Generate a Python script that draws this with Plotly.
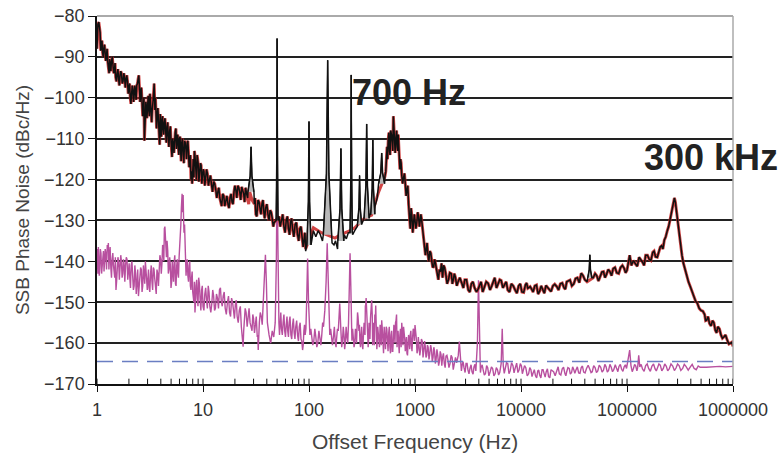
import plotly.graph_objects as go

# ---------------- data ----------------
# black measured curve (noise floor, without spurs)
black_f = [1.00,1.02,1.04,1.07,1.10,1.13,1.16,1.19,1.23,1.26,1.30,1.33,1.37,1.42,1.46,1.50,1.55,1.60,1.65,1.70,
           1.76,1.82,1.88,1.94,2.00,2.06,2.12,2.18,2.24,2.30,2.37,2.44,2.48,2.52,2.58,2.66,2.74,2.80,2.86,2.92,
           3.00,3.08,3.16,3.24,3.32,3.40,3.46,3.52,3.60,3.70,3.80,3.90,4.00,4.10,4.20,4.32,4.45,4.58,4.70,4.85,
           5.00,5.10,5.25,5.40,5.55,5.70,5.85,6.00,6.15,6.30,6.50,6.70,6.90,7.10,7.30,7.50,7.70,7.90,8.10,8.30,
           8.55,8.80,9.00,9.30,9.60,9.90,10.2,10.6,11.0,11.5,12.0,12.6,13.2,13.8,14.4,15.0,15.7,16.4,17.2,18.0,
           18.8,19.6,20.4,21.3,22.2,23.2,24.2,25.2,26.4,27.6,29.0,30.5,31.5,33.0,34.5,36.0,37.5,39.0,41.0,43.0,
           45.0,47.0,52.0,55.0,58.0,61.0,64.0,67.0,70.0,74.0,78.0,82.0,86.0,90.0,93.0,97.0,102,110,116,122,
           128,134,140,146,156,165,172,178,186,193,205,215,225,235,245,258,270,285,300,318,
           335,355,375,395,420,440,460,480,500,520,530,545,560,575,590,610,625,640,660,680,
           695,710,730,750,780,810,840,870,903,935,970,1000,1040,1080,1120,1150,1190,1230,1280,1320,
           1380,1440,1500,1560,1620,1700,1780,1860,1950,2070,2200,2300,2400,2550,2770,2950,3180,3400,3650,3970,
           4200,4500,4900,5300,5650,6100,6500,7000,7500,8100,8800,9500,10200,11000,11600,12200,13000,14000,15000,16000,
           17200,18500,20000,21800,23500,25500,27000,29000,31500,34000,37000,40000,48000,51800,56000,60000,64000,69000,74000,80000,
           87000,94000,100000,106000,110000,120000,130000,140000,150000,162000,175000,186000,200000,212000,225000,240000,255000,268000,280000,292000,
           305000,320000,340000,365000,396000,430000,460000,500000,540000,565000,600000,640000,680000,720000,770000,820000,880000,950000,1000000]
black_db = [-88,-82,-81.5,-84,-87,-89,-88,-88.5,-89.5,-91,-94,-92,-91,-92.5,-93.5,-95,-94,-95.5,-94.5,-94,
            -96,-95,-95.5,-96,-97.5,-100,-99,-98,-99.5,-98,-97,-95.5,-94.5,-98,-99,-101,-103,-110.5,-104,-102,
            -100.5,-103,-99,-101,-103,-100,-96.5,-103,-105,-104,-105.5,-111.5,-107,-105.5,-107.5,-106,-108.5,-107,-109.5,-108,
            -111,-114.5,-111,-109,-107.5,-110,-112,-110,-113,-111,-114,-110.5,-112.5,-111,-113.5,-116,-120,-121,-115,-113,
            -117,-114,-116,-118.5,-116.5,-119,-118,-119.5,-118.5,-120,-121,-120.5,-122.5,-123,-124.5,-126.5,-124,-125,-126,-124.5,
            -125.5,-123,-122.5,-121.5,-123,-121.8,-123.5,-122,-124.5,-123,-125,-126,-128.5,-125,-127,-126,-128,-127,-128.5,-127.5,
            -129.5,-130.5,-129,-130,-131.5,-130,-132,-130.5,-132,-131,-133.5,-132,-134,-134.5,-137.5,-136,-134.5,-132.5,-134,-132.5,
            -133.5,-135,-134,-133,-134,-135.5,-136,-135,-137,-135,-134,-133.5,-134.5,-133,-132.5,-133.5,-132.5,-131.5,-131,-130.5,
            -130,-129.5,-128.5,-129,-126.5,-124.5,-122.5,-121,-120.5,-119.3,-118,-112,-110,-113,-108,-111,-104.5,-112,-110,-112,
            -109,-114,-115,-119,-119.5,-121,-122.5,-126,-132,-129,-131,-130,-130.5,-129,-130,-129.4,-132,-136.4,-137,-138,
            -137.5,-140,-141.3,-140.5,-143.8,-142,-140.5,-141,-143,-144.5,-143,-144.5,-143.8,-145,-145.4,-144.5,-147,-145.5,-146.5,-146.6,
            -145,-146.5,-145.4,-146,-144,-145.5,-144.7,-145.7,-147,-145.5,-147,-146,-147.5,-145.8,-146.6,-146.2,-147.5,-145.8,-147.3,-147,
            -145.9,-147,-146,-146.2,-145.5,-146.5,-145,-144.6,-145.5,-144,-142.9,-144.5,-144,-143.5,-143.8,-142.5,-143.2,-142.5,-141.8,-142.8,
            -141.5,-141.7,-142.2,-138.5,-141,-140.6,-139,-140.2,-138.5,-139.5,-137.8,-138.9,-137.2,-136.2,-134.8,-132.5,-129.8,-127.0,-124.5,-127.5,
            -131.5,-136,-140.4,-143.5,-146.2,-148.5,-150.2,-152,-153,-154.4,-155.2,-154.5,-156.8,-156,-158,-158.5,-159.2,-160,-160.8]

# additional readings of the black curve's fine noise texture
black_noise_f = [1.015,1.055,1.085,1.115,1.145,1.175,1.21,1.245,1.28,1.315,1.35,1.395,1.44,1.48,1.525,1.575,1.625,1.675,1.73,1.79,
                 1.85,1.91,1.97,2.03,2.09,2.15,2.21,2.27,2.34,2.41,2.55,2.62,2.70,2.77,2.83,2.89,2.96,3.04,3.12,3.20,
                 3.28,3.36,3.56,3.65,3.75,3.85,3.95,4.05,4.15,4.26,4.38,4.51,4.64,4.77,4.92,5.05,5.17,5.32,5.47,5.62,
                 5.77,5.92,6.07,6.22,6.40,6.60,6.80,7.00,7.20,7.40,7.60,7.80,8.00,8.20,8.42,8.68,8.90,9.15,9.45,9.75,
                 10.05,10.4,10.8,11.25,11.75,12.3,12.9,13.5,14.1,14.7,15.35,16.05,16.8,17.6,18.4,19.2,20.0,20.85,21.75,22.7,
                 23.7,24.7,25.8,27.0,31.0,32.2,33.8,35.2,36.8,38.2,40.0,42.0,44.0,46.0,53.5,56.5,59.5,62.5,65.5,68.5,
                 72.0,76.0,80.0,84.0,88.0,91.5,550,567,582,600,617,632,650,670,688,702,720,740,765,795,
                 825,855,886,918,952,985,1020,1060,1100,1135,1170,1210,1255,1300,1350,1410,1470,1530,1590,1660,
                 1740,1820,1900,2010,2130,2250,2350,2480,2650,2860,3060,3290,3520,3800,4080,4350,4700,5100,5450,5870,
                 6300,6750,7250,7800,8450,9150,9850,10600,11300,12600,13500,14500,15500,16600,17800,19200,20800,22600,24500,26200,
                 28000,30200,32700,35500,38500,42000,50000,53800,58000,62000,66500,71500,77000,83500,90500,97000,115000,125000,135000,145000,
                 156000,168000,180000,193000,206000,218000,232000,247000,261000,274000,286000,298000,312000,330000,352000,380000,412000,445000,480000,520000,
                 552000,582000,620000,660000,700000,745000,795000,850000,915000,975000]
black_noise_db = [-85,-83,-88.5,-86,-90,-87,-91,-88,-92.5,-90.5,-93.5,-90,-94,-91.5,-96,-93,-97,-93.5,-96.5,-94,
                  -97.5,-94.5,-99,-96.5,-101.5,-97,-101,-97,-100.5,-96.5,-101,-97.5,-104.5,-100,-107,-101,-105,-99.5,-104.5,-101.5,
                  -106,-102,-100,-107.5,-102.5,-108,-104,-109.5,-104.5,-109,-105,-111,-106,-112,-107,-113,-110,-113.5,-108.5,-112.5,
                  -109,-114,-109.5,-115.5,-110,-116,-111,-115,-110.5,-117,-114,-118,-115.5,-119.5,-114.5,-120,-115.5,-120.5,-116,-121,
                  -117.5,-121.5,-117.5,-121.5,-119,-123,-121,-124.5,-122,-126,-123.5,-126.5,-124,-127,-123.5,-126,-121.5,-124.5,-122,-125,
                  -122.5,-125.5,-123.5,-126,-124.5,-129,-125.5,-128.5,-125,-129.5,-126,-130,-128,-131.5,-131.5,-128.5,-133,-129,-133.5,-129.5,
                  -134,-130.5,-135,-131.5,-136.5,-133,-115,-108.5,-114,-109,-113,-107,-113.5,-108,-113,-111,-117.5,-116,-121,-118.5,
                  -124,-121.5,-130,-127,-133,-128.5,-132,-128,-131.5,-128.5,-131,-135,-138.5,-135.5,-140,-138,-141.5,-139.5,-142,-144.5,
                  -142.5,-144,-141.5,-145.5,-142.8,-145.5,-143,-146,-144,-146.5,-144.5,-147.5,-145,-147.5,-145.5,-147.5,-145,-147,-145,-146.5,
                  -144.5,-146.5,-145,-147.5,-146,-147.8,-145.5,-147.6,-145.3,-146.8,-146,-148,-146,-147.8,-146.3,-147.4,-145.6,-147,-145.3,-146.8,
                  -144.8,-146,-144.2,-145.2,-143.5,-145,-143,-144.8,-142.6,-144,-142,-143.5,-141.5,-143,-141,-142.8,-139.8,-141.2,-139.5,-141,
                  -138.5,-139.8,-137.5,-139,-136.5,-137,-134,-131.5,-128.5,-126,-125.5,-129.5,-134,-138.5,-142,-145,-147.5,-149.8,-151.5,-152.2,
                  -154.5,-153.5,-155.8,-155,-157.5,-156.5,-158.8,-158,-160.2,-159.8]

# red smoothed floor where the black curve is hidden by spurs (90 Hz - 520 Hz)
red_bridge_f = [93, 110, 131, 176, 195, 235, 270, 335, 390, 450, 520]
red_bridge_db = [-137, -131.8, -133, -134.3, -133.6, -132.7, -131.8, -129.4, -128.7, -123.3, -119.3]

# spurs on the black curve: centre frequency, peak level, base level, relative half width
spur_f = [28.4, 50, 100, 150, 200, 250, 300, 350, 400, 485, 44600]
spur_peak = [-112, -85.5, -105.8, -90.8, -112.4, -94.4, -119, -106.4, -110.3, -113.5, -138.4]
spur_base = [-123, -130, -136, -133.5, -135, -133, -131, -129.5, -128.5, -121, -144]
spur_hw = [0.065, 0.02, 0.045, 0.09, 0.065, 0.025, 0.045, 0.055, 0.045, 0.065, 0.045]

# magenta curve
mag_f = [1.00,1.02,1.04,1.06,1.09,1.12,1.15,1.18,1.21,1.25,1.28,1.31,1.35,1.39,1.43,1.47,1.51,1.55,1.60,1.65,
         1.70,1.75,1.80,1.86,1.92,1.98,2.04,2.10,2.17,2.24,2.31,2.38,2.46,2.54,2.62,2.70,2.78,2.86,2.94,3.02,
         3.10,3.20,3.30,3.40,3.50,3.62,3.74,3.86,3.98,4.10,4.22,4.32,4.42,4.52,4.65,4.78,4.92,5.06,5.20,5.35,
         5.50,5.65,5.80,5.95,6.10,6.25,6.35,6.45,6.55,6.70,6.85,7.00,7.20,7.40,7.60,7.80,8.00,8.20,8.40,8.60,
         8.85,9.10,9.40,9.70,10.0,10.4,10.8,11.2,11.6,12.1,12.6,13.1,13.7,14.3,14.9,15.5,16.2,17.0,17.8,18.6,
         19.4,20.2,21.0,22.0,23.0,23.9,24.5,25.5,26.7,27.8,29.0,30.0,31.2,32.5,33.2,34.0,35.5,37.0,38.0,38.8,
         39.6,40.5,42.0,43.5,45.0,46.5,48.0,49.2,50.0,50.8,52.0,53.5,55.0,57.0,59.0,61.0,63.0,65.0,67.5,70.0,
         72.5,75.0,78.0,81.0,84.0,87.0,89.5,92.0,95.0,97.0,99.0,102,106,111,116,121,127,132,137,141,
         145,148.5,152,157,163,170,177,182,189,195,200,207,214,220,228,236,240.5,244,248,254,
         262,270,278,284,290,296,302,310,318,327,335,340,346,352,358,365,372,380,386,390,
         395,402,410,418,426,433,440,450,462,475,485,495,505,520,535,550,565,580,595,610,
         625,640,655,670,685,700,720,740,760,780,800,820,840,860,880,903,925,950,975,1000,
         1030,1060,1090,1130,1170,1210,1250,1290,1330,1380,1430,1480,1530,1580,1640,1700,1760,1820,1890,1960,
         2040,2140,2240,2350,2470,2560,2620,2690,2780,2900,3030,3160,3300,3450,3600,3750,3880,3970,4070,4200,
         4400,4620,4850,5120,5400,5700,6000,6300,6500,6650,6800,7100,7500,7900,8400,8800,9100,9600,10100,10500,
         11100,11800,12400,13000,13700,14400,15000,15800,16500,17300,18200,19200,20300,21800,23000,24500,26000,27000,28500,30000,
         31500,33000,35000,37000,39000,41500,44600,47000,50000,53000,56500,60000,63500,67000,71000,75000,80000,84000,89000,94000,
         99000,103000,106000,109000,115000,121000,126000,129000,132000,140000,150000,160000,172000,184000,194000,206000,220000,235000,250000,270000,
         290000,310000,335000,360000,396000,430000,470000,490000,560000,650000,750000,850000,1000000]
mag_db = [-137,-143,-139,-142,-138,-141,-137.5,-140,-138,-136,-135.5,-139,-141.5,-139.5,-141,-144,-147,-142,-140,-141.5,
          -140,-143,-140.5,-141,-139.5,-142.5,-144,-141,-143.5,-146,-143,-145.5,-148.5,-144,-142,-146,-143,-140,-144.5,-142,
          -146.5,-143,-145,-141.5,-144,-148,-143,-141,-139.5,-140.5,-137,-132,-134,-139,-137.5,-142,-141,-145,-143,-140,
          -145.5,-141,-143,-139,-135,-127,-123.5,-125,-129,-131,-138,-141,-143.5,-141,-146,-144,-147.5,-150,-152.5,-146,
          -149,-144,-149.5,-147,-151,-148,-149.5,-146,-151,-150.4,-148.5,-151.5,-149,-147,-150,-148.5,-151.5,-150,-152.5,-149,
          -152,-150.5,-153.5,-152,-156,-160.9,-154,-152.5,-153.5,-155,-157,-154,-156,-158.5,-161.7,-155,-153.5,-151,-146,-138.4,
          -145,-155,-158,-160,-157,-158.5,-155,-140,-119.5,-140,-155,-154,-156.5,-155,-157,-155.5,-157,-155,-158,-155.5,
          -157.5,-156,-158,-156,-159,-161.7,-157,-158,-150,-139.3,-150,-158,-158.8,-159.5,-158.5,-160,-159,-158,-156,-152,
          -145,-135.6,-145,-158,-159.4,-158.5,-160,-159,-157,-150.3,-157,-159.4,-158,-160,-158.5,-155,-145,-138,-146,-159.4,
          -158,-160,-157.5,-156,-153.5,-157,-159.4,-158,-160.5,-157.5,-156,-151,-149,-152,-158,-159.5,-157,-154,-150,-149.5,
          -153,-159.4,-157,-153,-150.8,-156,-160,-158,-161,-157,-154.4,-158,-162.5,-158,-156,-159.5,-157.5,-161,-158,-162,
          -159,-157,-155,-153,-158,-160.5,-158,-161,-157.5,-156,-159,-160.5,-162.5,-160,-159,-158,-160.5,-158.5,-157,-155.6,
          -159,-161.7,-160,-161.5,-159.5,-162,-160.8,-163,-161,-162.5,-161.5,-163.5,-162,-164.1,-163,-164.5,-162.8,-163.5,-165,-163.2,
          -164,-165,-163.5,-165,-164.8,-163,-159.6,-163.5,-165.5,-166,-165,-166.6,-166.2,-167,-165.8,-166.8,-160,-144.6,-160,-166,
          -166.6,-167.5,-166,-167,-166.2,-167.5,-166.5,-167.2,-165,-156.5,-165.5,-166.5,-165,-166.8,-165.5,-166.2,-164.9,-166.5,-165.6,-166.6,
          -166,-167.5,-166.5,-167.3,-168,-166.8,-167.8,-166.5,-167.4,-167,-168.2,-166.5,-167,-166.6,-167.5,-166.3,-167.5,-167,-166.2,-167.2,
          -166.5,-166.6,-167.3,-166,-167.1,-166.2,-166.4,-167,-166,-166.8,-165.9,-166.6,-165.8,-166.7,-165.9,-166.5,-166.3,-165.7,-166.4,-165.8,
          -166.2,-164,-161.7,-165.5,-166.2,-165.6,-166,-163,-165.8,-166.3,-165.5,-166.2,-165.6,-166.3,-166,-165.4,-166.2,-165.7,-166.3,-165.6,
          -166.1,-165.5,-166.2,-165.7,-165.8,-166.2,-165.6,-165.9,-165.9,-165.8,-165.7,-165.8,-165.7]

# additional readings of the magenta curve's fine noise texture
mag_noise_f = [1.01,1.03,1.05,1.075,1.105,1.135,1.165,1.195,1.23,1.265,1.295,1.33,1.37,1.41,1.45,1.49,1.53,1.575,1.625,1.675,
               1.725,1.775,1.83,1.89,1.95,2.01,2.07,2.135,2.205,2.275,2.345,2.42,2.50,2.58,2.66,2.74,2.82,2.90,2.98,3.06,
               3.15,3.25,3.35,3.45,3.56,3.68,3.80,3.92,4.04,4.16,4.27,4.37,4.47,4.58,4.71,4.85,4.99,5.13,5.27,5.42,
               5.57,5.72,5.87,6.02,6.18,6.30,6.40,6.50,6.62,6.77,6.92,7.10,7.30,7.50,7.70,7.90,8.10,8.30,8.50,8.72,
               8.97,9.25,9.55,9.85,10.2,10.6,11.0,11.4,11.85,12.35,12.85,13.4,14.0,14.6,15.2,15.85,16.6,17.4,18.2,19.0,
               19.8,20.6,21.5,22.5,23.45,24.2,25.0,26.1,27.2,28.4,29.5,30.6,31.8,32.85,33.6,34.7,36.2,
               51.3,52.7,54.2,56.0,58.0,60.0,62.0,64.0,66.2,68.7,71.2,73.7,76.5,79.5,82.5,85.5,88.2,90.7,93.5,104,
               108.5,113.5,118.5,124,129.5,134.5,160,166.5,173.5,180,185.5,203.5,210.5,217,224,232,258,266,274,281,
               287,299,306,314,322,331,337.5,343,349,355,361.5,368.5,376,383,398.5,406,414,422,429.5,436.5,
               445,456,468.5,480,490,500,512,527,542,557,572,587,602,617,632,647,662,677,692,710,
               730,750,770,790,810,830,850,870,891,914,937,962,987,1015,1045,1075,1110,1150,1190,1230,
               1270,1310,1355,1405,1455,1505,1555,1610,1670,1730,1790,1855,1925,2000,2090,2190,2295,2410,
               2740,2840,2970,3100,3230,3380,3530,3680,4140,4300,4510,4740,4980,5260,5550,5850,6150,6950,7300,7700,
               8150,8600,8950,9350,9850,10300,10800,11450,12100,12700,13350,14050,14700,15400,16150,16900,17750,18700,19750,21000,
               22400,23750,25200,26500,27700,29200,30700,32200,34000,36000,38000,40200,43000,45800,48500,51500,54700,58200,61800,65200,
               69000,73000,77500,82000,86500,91500,96500,112000,118000,124000,136000,145000,155000,166000,178000,189000,200000,213000,227000,242000,
               260000,280000,300000,322000,347000,378000,412000,450000]
mag_noise_db = [-140,-136.5,-143.5,-137,-143,-138,-142.5,-137,-142,-137.5,-142,-136.5,-144,-138,-143,-139,-145,-139,-144.5,-138.5,
                -144,-139.5,-145,-139,-144.5,-140.5,-146.5,-140,-147,-141,-148,-142,-146,-141.5,-147.5,-141,-145.5,-141.5,-147,-142,
                -147.5,-141,-147,-142,-146.5,-142,-146,-138.5,-143,-136,-140,-131.5,-138,-135,-143,-139,-146.5,-140,-145,-138.5,
                -146,-139.5,-144,-137,-131,-124.5,-128,-123.8,-133,-136,-143.5,-139.5,-145,-140,-147,-142.5,-148.5,-145,-150,-144.5,
                -151,-145.5,-152,-146,-152,-146.5,-151.5,-147.5,-152.5,-147,-152,-148,-151.5,-146.5,-151,-147.5,-153,-148.5,-153.5,-150,
                -154,-149.5,-155,-151,-158,-157,-151.5,-156,-151.5,-156.5,-153,-157.5,-153.5,-158,-157,-152.5,-155.5,
                -152,-158,-152.5,-158,-153,-158.5,-153.5,-158.5,-153.5,-159,-154,-159,-154.5,-159.5,-155,-159.5,-160.5,-155.5,-156.5,-156.5,
                -160.5,-156.5,-161,-157,-160.5,-155,-156.5,-160.5,-156,-161,-156.5,-161,-156,-161.5,-156,-160,-156.5,-161,-156.5,-160,
                -152.5,-155.5,-161,-156,-161.5,-155,-158,-150.5,-153,-157,-161,-155,-159,-152.5,-160.5,-155,-160.5,-155,-153,-161.5,
                -156,-159.5,-155.5,-160.5,-156,-160,-156,-161.5,-156.5,-162,-156,-162.5,-157,-162,-155.5,-160,-154.5,-161,-157,-162.5,
                -156.5,-155,-160.5,-157,-162,-158.5,-163,-158,-161.5,-157,-162,-156.5,-159.5,-157,-162.5,-158.5,-163,-159,-163.5,-159.5,
                -163.5,-160.5,-164,-160.5,-164.5,-161,-165,-161.5,-165.5,-162,-165.5,-162.5,-166,-163,-166,-163,-166.5,-163.5,
                -166.8,-164.5,-167.2,-165,-167.5,-165.3,-167.6,-165.2,-167.2,-165.3,-167.8,-165.5,-168,-165.8,-168,-166,-167.8,-167.4,-164.8,-167.5,
                -164.8,-167.3,-165.5,-167.2,-165,-167.5,-165.5,-168,-166,-168.2,-166.5,-168.5,-166.6,-168.5,-166.5,-168.3,-166.3,-168.5,-166.7,-168,
                -165.8,-167.8,-165.9,-168,-166,-167.6,-165.8,-167.4,-165.8,-167.4,-165.6,-167.3,-165.4,-167.2,-165.5,-167.2,-165.4,-167.1,-165.2,-167.1,
                -165.2,-167,-165.3,-167,-165.2,-166.9,-165.3,-167,-165.2,-166.8,-165.2,-166.9,-165.1,-166.9,-165.1,-166.8,-165.1,-166.8,-165.1,-166.8,
                -165.1,-166.7,-165.1,-166.7,-165.2,-166.6,-165.2,-166.5]

floor_level = -164.5
x_tick_vals = [1, 10, 100, 1000, 10000, 100000, 1000000]
x_tick_text = ["1", "10", "100", "1000", "10000", "100000", "1000000"]
y_tick_vals = [-170, -160, -150, -140, -130, -120, -110, -100, -90, -80]
x_minor_vals = [d * m for d in [1, 10, 100, 1000, 10000, 100000] for m in range(2, 10)]

# ---------------- build traces ----------------
def in_spur(f):
    return any(abs(f / sf - 1) < hw for sf, hw in zip(spur_f, spur_hw))

floor_all = sorted(list(zip(black_f, black_db)) + list(zip(black_noise_f, black_noise_db)))

lo, hi = red_bridge_f[0], red_bridge_f[-1]
red_pts = [(f, d) for f, d in floor_all if (f < lo or f > hi)]
red_pts += list(zip(red_bridge_f, red_bridge_db))
red_pts.sort()
red_x = [p[0] for p in red_pts]
red_y = [p[1] for p in red_pts]

spur_pts = []
poly_x, poly_y = [], []
for f, pk, bs, hw in zip(spur_f, spur_peak, spur_base, spur_hw):
    mid = bs + (pk - bs) * 0.35
    xs = [f * (1 - hw), f * (1 - hw * 0.3), f, f * (1 + hw * 0.3), f * (1 + hw)]
    ys = [bs, mid, pk, mid, bs]
    spur_pts += list(zip(xs, ys))
    poly_x += xs + [None]
    poly_y += ys + [None]
blk = [(f, d) for f, d in floor_all if not in_spur(f)] + spur_pts
blk.sort()
blk_x = [p[0] for p in blk]
blk_y = [p[1] for p in blk]

mag = sorted(list(zip(mag_f, mag_db)) + list(zip(mag_noise_f, mag_noise_db)))
mag_x = [p[0] for p in mag]
mag_y = [p[1] for p in mag]

fig = go.Figure()
fig.add_trace(go.Scatter(x=mag_x, y=mag_y, mode="lines",
                         line=dict(color="#b8509f", width=1.4), hoverinfo="skip"))
fig.add_trace(go.Scatter(x=[1, 1000000], y=[floor_level, floor_level], mode="lines",
                         line=dict(color="#6a7ec2", width=1.6, dash="16px,9px"), hoverinfo="skip"))
fig.add_trace(go.Scatter(x=red_x, y=red_y, mode="lines",
                         line=dict(color="rgba(200,35,35,0.85)", width=3.0), hoverinfo="skip"))
fig.add_trace(go.Scatter(x=poly_x, y=poly_y, mode="lines", fill="toself",
                         fillcolor="#b8b8b8", line=dict(color="#111", width=1), hoverinfo="skip"))
fig.add_trace(go.Scatter(x=blk_x, y=blk_y, mode="lines",
                         line=dict(color="#111", width=1.5), hoverinfo="skip"))

# minor (and inner major) tick marks of the log axis, drawn as axis decorations
tick_shapes = []
for v in x_minor_vals + x_tick_vals:
    tick_shapes.append(dict(type="line", xref="x", yref="y", x0=v, x1=v, y0=-170, y1=-168.7,
                            line=dict(color="#111", width=1), layer="above"))

fig.update_layout(
    width=782, height=455,
    margin=dict(l=97, r=49, t=16, b=71),
    paper_bgcolor="white", plot_bgcolor="white",
    showlegend=False,
    font=dict(family="Liberation Sans, Arial, sans-serif", size=18, color="#333"),
    xaxis=dict(type="log", range=[0, 6], tickvals=x_tick_vals, ticktext=x_tick_text, automargin=False,
               showgrid=False, zeroline=False, showline=True, linecolor="#111", linewidth=1.5,
               ticks="outside", ticklen=6, tickcolor="#111", tickwidth=1.2, ticklabelstandoff=3,
               tickfont=dict(size=18, color="#333")),
    yaxis=dict(range=[-170, -80], tickvals=y_tick_vals, showgrid=True, gridcolor="#222", gridwidth=1.6,
               zeroline=False, showline=True, linecolor="#111", linewidth=1.5, automargin=False,
               ticks="outside", ticklen=7, tickcolor="#111", tickwidth=1.2,
               title=dict(text="SSB Phase Noise (dBc/Hz)", font=dict(size=19, color="#444"), standoff=9),
               tickfont=dict(size=18, color="#333")),
    shapes=[
        dict(type="line", xref="paper", yref="paper", x0=0, x1=1, y0=1, y1=1,
             line=dict(color="#aaaaaa", width=2), layer="above"),
        dict(type="line", xref="paper", yref="paper", x0=1, x1=1, y0=0, y1=1,
             line=dict(color="#aaaaaa", width=1.5), layer="above"),
    ] + tick_shapes,
    annotations=[
        dict(x=2.387, y=-98.6, xref="x", yref="y", text="<b>700 Hz</b>", showarrow=False,
             xanchor="left", yanchor="middle", font=dict(size=36, color="#222", family="Liberation Sans, Arial")),
        dict(x=5.142, y=-114.5, xref="x", yref="y", text="<b>300 kHz</b>", showarrow=False,
             xanchor="left", yanchor="middle", font=dict(size=36, color="#222", family="Liberation Sans, Arial")),
        dict(x=0.5, y=-0.155, xref="paper", yref="paper", text="Offset Frequency (Hz)", showarrow=False,
             xanchor="center", yanchor="middle", font=dict(size=21, color="#444")),
    ],
)

fig.write_html("out.html")
